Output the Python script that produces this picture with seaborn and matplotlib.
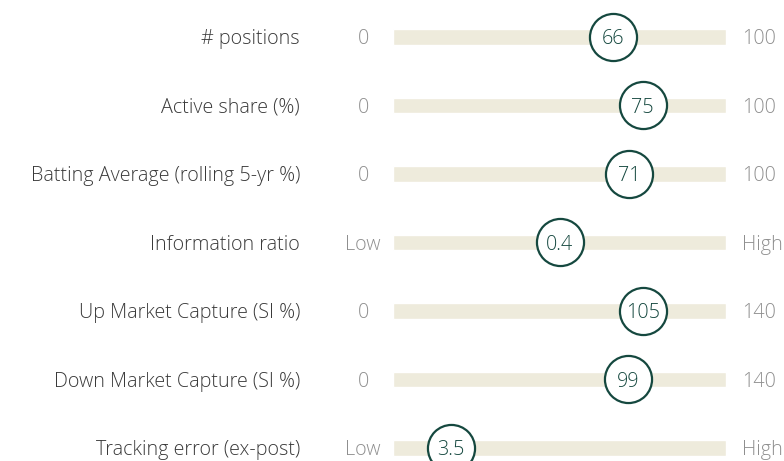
import numpy as np
import pandas as pd
import matplotlib
matplotlib.use('Agg')
import matplotlib.pyplot as plt
import seaborn as sns

# data
metrics = ['# positions', 'Active share (%)', 'Batting Average (rolling 5-yr %)',
           'Information ratio', 'Up Market Capture (SI %)', 'Down Market Capture (SI %)',
           'Tracking error (ex-post)']
values = [66, 75, 71, 0.4, 105, 99, 3.5]
value_labels = ['66', '75', '71', '0.4', '105', '99', '3.5']
scale_min = [0, 0, 0, 0, 0, 0, 0]
scale_max = [100, 100, 100, 0.8, 140, 140, 20]
min_labels = ['0', '0', '0', 'Low', '0', '0', 'Low']
max_labels = ['100', '100', '100', 'High', '140', '140', 'High']

df = pd.DataFrame({'metric': metrics, 'value': values,
                   'lo': scale_min, 'hi': scale_max})
df['pos'] = (df['value'] - df['lo']) / (df['hi'] - df['lo'])
df['track'] = 1.0
df['row'] = np.arange(len(df))

sns.set_theme(style='white')
plt.rcParams['font.family'] = ['Open Sans', 'DejaVu Sans']

track_col = '#eeebdc'
green = '#15483f'
grey = '#8f8f8f'
dark = '#3a3a3a'
fs = 14.2

fig = plt.figure(figsize=(7.84, 4.61), dpi=100)
ax = fig.add_axes([393 / 784, 0, (726 - 393) / 784, 1])

sns.barplot(data=df, x='track', y='metric', orient='h', color=track_col,
            width=0.23, ax=ax, saturation=1)
sns.scatterplot(data=df, x='pos', y='row', s=1150, color='white',
                edgecolor=green, linewidth=1.6, ax=ax, zorder=5, clip_on=False)

ax.set_xlim(0, 1)
ax.set_ylim(6.19, -0.54)
ax.axis('off')

kw = dict(va='center_baseline', fontsize=fs, fontweight='light')
for i, row in df.iterrows():
    ax.text(row['pos'], i, value_labels[i], ha='center', color=green, zorder=6, **kw)
    ax.annotate(metrics[i], xy=(0, i), xycoords=('axes fraction', 'data'),
                xytext=(-93, 0), textcoords='offset pixels',
                ha='right', color=dark, **kw)
    ax.annotate(min_labels[i], xy=(0, i), xycoords=('axes fraction', 'data'),
                xytext=(-30, 0), textcoords='offset pixels',
                ha='center', color=grey, **kw)
    ax.annotate(max_labels[i], xy=(1, i), xycoords=('axes fraction', 'data'),
                xytext=(16, 0), textcoords='offset pixels',
                ha='left', color=grey, **kw)

fig.savefig('out.png', dpi=100)
